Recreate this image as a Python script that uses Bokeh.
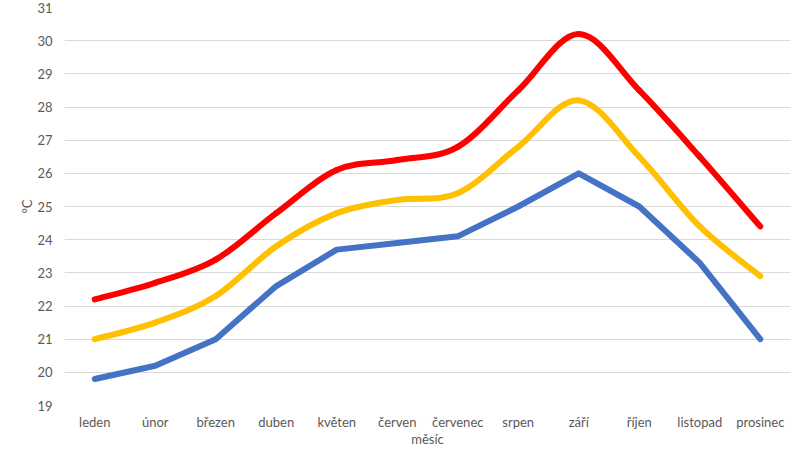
from bokeh.plotting import figure
from bokeh.models import FactorRange, Range1d, FixedTicker
from bokeh.embed import file_html
from bokeh.resources import INLINE

months = ["leden", "únor", "březen", "duben", "květen", "červen",
          "červenec", "srpen", "září", "říjen", "listopad", "prosinec"]
blue = [19.8, 20.2, 21.0, 22.6, 23.7, 23.9, 24.1, 25.0, 26.0, 25.0, 23.3, 21.0]
yellow = [21.0, 21.5, 22.3, 23.8, 24.8, 25.2, 25.4, 26.8, 28.2, 26.5, 24.4, 22.9]
red = [22.2, 22.7, 23.4, 24.8, 26.1, 26.4, 26.8, 28.5, 30.2, 28.5, 26.5, 24.4]
y_ticks = list(range(19, 32))

FONT = "Lato"
GRAY = "#595959"

p = figure(width=800, height=449, output_backend="svg", toolbar_location=None,
           x_range=FactorRange(factors=months, range_padding=0),
           y_range=Range1d(19, 31),
           min_border_left=64, min_border_right=10, min_border_top=7,
           min_border_bottom=44)

p.outline_line_color = None
p.background_fill_color = "white"
p.border_fill_color = "white"
p.xgrid.grid_line_color = None
p.ygrid.ticker = FixedTicker(ticks=y_ticks)
p.ygrid.grid_line_color = "#D9D9D9"
p.ygrid.grid_line_width = 1.2

p.yaxis.ticker = FixedTicker(ticks=y_ticks)
for ax in (p.xaxis, p.yaxis):
    ax.axis_line_color = None
    ax.major_tick_line_color = None
    ax.minor_tick_line_color = None
    ax.major_tick_out = 0
    ax.major_tick_in = 0
    ax.minor_tick_out = 0
    ax.major_label_text_font = FONT
    ax.major_label_text_font_size = "13px"
    ax.major_label_text_color = GRAY
    ax.axis_label_text_font = FONT
    ax.axis_label_text_font_size = "13px"
    ax.axis_label_text_color = GRAY
    ax.axis_label_text_font_style = "normal"

p.yaxis.axis_label = "°C"
p.yaxis.major_label_standoff = 12
p.yaxis.axis_label_standoff = -1
p.xaxis.axis_label = "měsíc"
p.xaxis.major_label_standoff = 8
p.xaxis.axis_label_standoff = -2


def smooth(vals):
    n = len(vals)
    xs = [i + 0.5 for i in range(n)]
    x0, y0, x1, y1, cx0, cy0, cx1, cy1 = [], [], [], [], [], [], [], []
    for i in range(n - 1):
        im1 = max(i - 1, 0)
        ip2 = min(i + 2, n - 1)
        x0.append(xs[i]); y0.append(vals[i])
        x1.append(xs[i + 1]); y1.append(vals[i + 1])
        cx0.append(xs[i] + (xs[i + 1] - xs[im1]) / 6)
        cy0.append(vals[i] + (vals[i + 1] - vals[im1]) / 6)
        cx1.append(xs[i + 1] - (xs[ip2] - xs[i]) / 6)
        cy1.append(vals[i + 1] - (vals[ip2] - vals[i]) / 6)
    return dict(x0=x0, y0=y0, x1=x1, y1=y1, cx0=cx0, cy0=cy0, cx1=cx1, cy1=cy1)


p.line(months, blue, line_color="#4472C4", line_width=6,
       line_cap="round", line_join="round")
for vals, col in ((yellow, "#FFC000"), (red, "#FF0000")):
    p.bezier(source=smooth(vals), x0="x0", y0="y0", x1="x1", y1="y1",
             cx0="cx0", cy0="cy0", cx1="cx1", cy1="cy1",
             line_color=col, line_width=6, line_cap="round")

open("out.html", "w").write(file_html(p, INLINE))
